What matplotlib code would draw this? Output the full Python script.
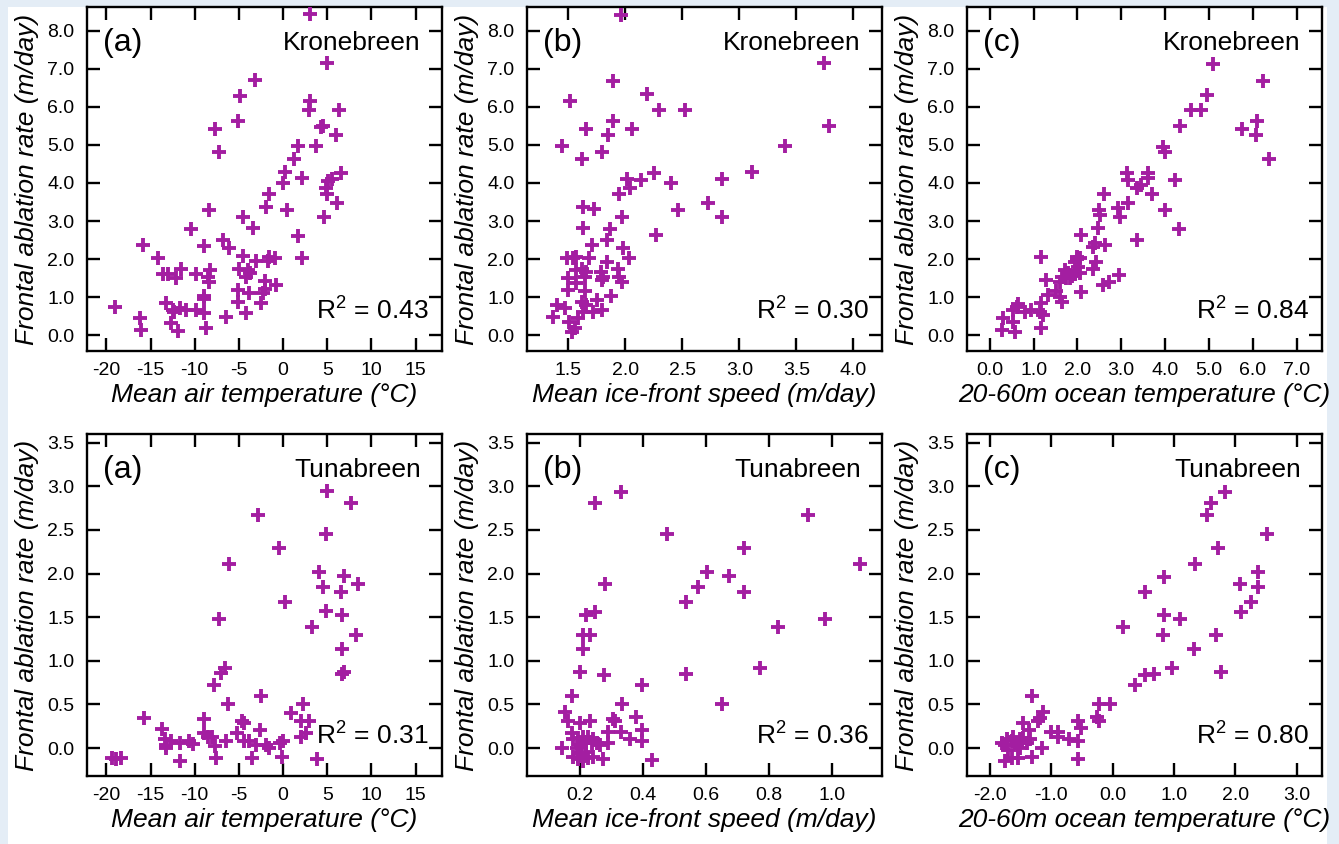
import matplotlib
matplotlib.use('Agg')
from matplotlib import pyplot as plt
from matplotlib.patches import Rectangle
from matplotlib.ticker import FixedLocator, FuncFormatter

plt.rcParams['font.family'] = ['Liberation Sans', 'DejaVu Sans']
plt.rcParams['mathtext.fontset'] = 'custom'
plt.rcParams['mathtext.rm'] = 'Liberation Sans'
plt.rcParams['axes.unicode_minus'] = False

MARK = '#a31ea1'

# Kronebreen: mean air temperature vs frontal ablation rate
kr_air_x = [3.1, 5.0, -3.2, -4.9, 3.0, 2.9, 6.35, -5.05, -7.7, 4.3, 4.55, 6.0, -7.2, 1.65, 3.7,
            1.25, 0.2, 0.0, 2.1, 6.55, 5.05, 5.6, 4.85, 4.95, 6.15, 4.65, -1.55, -1.95, 0.5, -8.35,
            -4.55, -10.4, -3.45, 1.7, -15.85, -9.0, -6.85, -6.15, -14.15, -4.55, -3.05, -1.75, -1.55,
            -0.9, 2.2, -13.6, -13.05, -11.55, -12.1, -9.85, -8.25, -8.5, -8.4, -5.0, -4.0, -3.75,
            -4.2, -2.1, -0.8, -2.0, -5.1, -3.8, -2.3, -2.5, -5.1, -4.2, -6.45, -8.9, -9.0, -8.9,
            -8.7, -13.2, -12.5, -11.7, -10.95, -9.85, -12.65, -11.9, -19.05, -16.25, -16.1, -12.3]
kr_air_y = [8.45, 7.15, 6.7, 6.3, 6.16, 5.93, 5.92, 5.64, 5.41, 5.48, 5.5, 5.26, 4.82, 4.98, 4.98,
            4.64, 4.29, 3.99, 4.12, 4.27, 4.06, 4.1, 3.86, 3.72, 3.48, 3.11, 3.72, 3.36, 3.3, 3.3,
            3.11, 2.78, 2.82, 2.61, 2.37, 2.35, 2.5, 2.28, 2.02, 2.08, 1.95, 1.95, 2.06,
            2.03, 2.02, 1.6, 1.6, 1.75, 1.49, 1.6, 1.71, 1.53, 1.4, 1.75, 1.71, 1.62,
            1.52, 1.42, 1.31, 1.2, 1.18, 1.11, 1.11, 0.83, 0.88, 0.59, 0.48, 1.03, 0.94, 0.59,
            0.19, 0.83, 0.66, 0.7, 0.66, 0.66, 0.32, 0.11, 0.73, 0.44, 0.13, 0.6]

# Kronebreen: mean ice-front speed
kr_spd_x = [1.96, 3.74, 3.79, 1.89, 1.52, 2.19, 2.30, 2.52, 1.89, 1.66, 2.06, 1.85, 1.45, 1.80,
            1.62, 3.40, 3.11, 2.85, 2.25, 2.14, 2.02, 2.04, 1.95, 2.40, 2.73, 2.46, 2.85, 2.27,
            1.63, 1.73, 1.63, 1.97, 1.87, 1.84, 1.71, 1.98, 2.03, 1.49, 1.54, 1.57, 1.68, 1.84,
            1.94, 1.95, 1.97, 1.57, 1.62, 1.66, 1.65, 1.79, 1.81, 1.80, 1.50, 1.57, 1.50, 1.65,
            1.88, 1.75, 1.40, 1.47, 1.37, 1.62, 1.66, 1.63, 1.72, 1.80, 1.59, 1.51, 1.53, 1.56]
kr_spd_y = [8.41, 7.16, 5.50, 6.69, 6.16, 6.33, 5.92, 5.92, 5.64, 5.43, 5.41, 5.26, 4.98, 4.82,
            4.63, 4.98, 4.29, 4.10, 4.27, 4.08, 4.10, 3.86, 3.72, 3.99, 3.48, 3.30, 3.11, 2.63,
            3.36, 3.31, 2.82, 3.11, 2.78, 2.50, 2.37, 2.28, 2.03, 2.02, 2.02, 2.04, 2.02, 1.93,
            1.73, 1.53, 1.40, 1.71, 1.75, 1.67, 1.53, 1.67, 1.53, 1.45, 1.49, 1.36, 1.18, 1.17,
            1.03, 0.92, 0.79, 0.70, 0.48, 0.88, 0.79, 0.61, 0.61, 0.66, 0.44, 0.35, 0.09, 0.18]

# Kronebreen: 20-60m ocean temperature
kr_oce_x = [5.10, 6.23, 4.95, 4.58, 4.83, 4.35, 5.75, 6.09, 6.07, 6.37, 3.96, 4.0, 4.22, 4.0,
            4.32, 3.12, 3.16, 3.35, 3.46, 3.61, 3.61, 3.69, 3.16, 3.35, 2.61, 2.93, 2.97, 2.50,
            2.51, 2.47, 2.63, 2.36, 2.40, 2.42, 2.36, 2.95, 2.08, 1.98, 2.05, 1.94, 2.02, 2.05,
            2.08, 2.59, 2.72, 1.71, 1.79, 1.64, 1.83, 1.60, 1.50, 1.60, 1.64, 1.16, 1.29, 1.33,
            1.16, 1.14, 1.22, 1.16, 0.27, 0.30, 0.53, 0.57, 0.53, 0.61, 0.65, 0.80, 0.95, 1.88,
            1.95, 1.75, 2.0]
kr_oce_y = [7.14, 6.69, 6.31, 5.92, 5.92, 5.50, 5.41, 5.64, 5.26, 4.62, 4.95, 4.82, 4.09, 3.30,
            2.78, 4.25, 4.09, 3.86, 3.94, 4.25, 4.12, 3.72, 3.48, 2.50, 3.72, 3.33, 3.11, 3.30,
            3.16, 2.82, 2.37, 2.32, 2.41, 1.93, 1.75, 1.58, 2.63, 2.06, 2.02, 1.93, 1.80, 1.62,
            1.14, 1.31, 1.40, 1.71, 1.62, 1.53, 1.49, 1.40, 1.17, 1.01, 0.88, 2.06, 1.46, 1.05,
            0.83, 0.61, 0.53, 0.19, 0.13, 0.44, 0.35, 0.09, 0.66, 0.74, 0.82, 0.61, 0.66, 1.55,
            1.60, 1.50, 2.0]

# Tunabreen: mean air temperature
tu_air_x = [4.95, 7.66, -2.88, 4.84, -0.43, -6.07, 4.09, 6.91, 8.53, 4.54, 6.53, 0.23, 4.84,
            6.72, -7.2, 3.33, 8.23, 6.72, 6.91, 6.72, -6.53, -7.0, -7.77, -6.26, -2.5, 2.28,
            0.87, 2.0, 2.96, 2.58, 2.0, -15.8, -13.7, -13.4, -13.3, -13.2, -12.66, -11.7,
            -11.7, -10.6, -10.2, -8.9, -8.9, -8.5, -8.0, -7.65, -7.6, -6.45, -5.25, -4.6, -4.4,
            -4.4, -3.9, -3.55, -3.1, -2.6, -1.9, -1.56, -0.3, -0.1, 3.9, -19.4, -18.9, -18.4, 0.0]
tu_air_y = [2.95, 2.81, 2.67, 2.45, 2.29, 2.11, 2.02, 1.97, 1.88, 1.85, 1.79, 1.67, 1.57,
            1.53, 1.48, 1.39, 1.30, 1.13, 0.87, 0.85, 0.92, 0.86, 0.72, 0.50, 0.60, 0.50,
            0.40, 0.31, 0.31, 0.17, 0.13, 0.35, 0.22, 0.10, 0.04, 0.0, 0.08, 0.06,
            -0.15, 0.08, 0.05, 0.33, 0.17, 0.13, 0.13, 0.02, -0.11, 0.08, 0.17, 0.31, 0.29,
            0.08, 0.08, -0.11, 0.04, 0.21, 0.04, 0.0, 0.06, -0.10, -0.13, -0.11, -0.13, -0.11, 0.08]

# Tunabreen: mean ice-front speed
tu_spd_x = [0.33, 0.248, 0.478, 0.926, 0.721, 1.09, 0.603, 0.675, 0.574, 0.279, 0.721, 0.536,
            0.248, 0.221, 0.979, 0.83, 0.21, 0.232, 0.21, 0.2, 0.276, 0.536, 0.772, 0.398,
            0.653, 0.335, 0.174, 0.152, 0.163, 0.2, 0.232, 0.304, 0.313, 0.378, 0.396, 0.29,
            0.33, 0.359, 0.396, 0.428, 0.274, 0.29, 0.142, 0.174, 0.179, 0.195, 0.211, 0.226,
            0.242, 0.19, 0.205, 0.221, 0.237, 0.253, 0.179, 0.195, 0.211, 0.226, 0.242, 0.2,
            0.221, 0.264]
tu_spd_y = [2.94, 2.81, 2.45, 2.67, 2.29, 2.11, 2.02, 1.97, 1.85, 1.88, 1.79, 1.67,
            1.56, 1.53, 1.48, 1.39, 1.30, 1.30, 1.13, 0.87, 0.84, 0.85, 0.92, 0.72,
            0.50, 0.50, 0.60, 0.41, 0.31, 0.29, 0.31, 0.33, 0.31, 0.36, 0.21, 0.19,
            0.19, 0.10, 0.08, -0.14, -0.13, 0.06, 0.0, 0.17, 0.10, 0.11, 0.13, 0.13,
            0.10, 0.0, 0.04, 0.06, 0.06, 0.06, -0.10, -0.13, -0.15, -0.11, -0.10, -0.06,
            -0.04, 0.04]

# Tunabreen: 20-60m ocean temperature
tu_oce_x = [1.83, 1.60, 1.53, 2.52, 1.71, 1.34, 0.83, 2.375, 2.07, 2.36, 0.53, 2.25, 2.09,
            0.84, 1.10, 0.16, 0.82, 1.68, 1.33, 0.97, 1.76, 0.52, 0.67, 0.36, -0.23, -0.04,
            -1.32, -0.25, -0.23, -1.14, -1.18, -1.21, -1.46, -1.36, -0.57, -0.52, -1.0, -0.90,
            -0.90, -0.72, -0.56, -0.57, -1.15, -1.32, -1.755, -1.647, -1.538, -1.755, -1.728,
            -1.647, -1.62, -1.565, -1.51, -1.457, -1.40, -1.51, -1.70, -1.35, -1.81]
tu_oce_y = [2.94, 2.81, 2.67, 2.45, 2.29, 2.11, 1.96, 2.02, 1.88, 1.85, 1.79, 1.67, 1.56,
            1.53, 1.48, 1.39, 1.30, 1.30, 1.13, 0.92, 0.87, 0.84, 0.85, 0.72, 0.50, 0.50,
            0.60, 0.36, 0.31, 0.41, 0.34, 0.31, 0.29, 0.21, 0.31, 0.23, 0.19, 0.19,
            0.13, 0.10, 0.08, -0.13, 0.0, -0.10, -0.15, -0.11, -0.11, 0.04, 0.10,
            0.08, 0.13, 0.04, 0.10, 0.11, 0.06, 0.0, -0.02, 0.10, 0.06]

glaciers = ['Kronebreen', 'Tunabreen']
panel_tags = ['(a)', '(b)', '(c)']
xlabels = ['Mean air temperature (°C)', 'Mean ice-front speed (m/day)',
           '20-60m ocean temperature (°C)']
r2_values = [[0.43, 0.30, 0.84], [0.31, 0.36, 0.80]]
xs = [[kr_air_x, kr_spd_x, kr_oce_x], [tu_air_x, tu_spd_x, tu_oce_x]]
ys = [[kr_air_y, kr_spd_y, kr_oce_y], [tu_air_y, tu_spd_y, tu_oce_y]]

xticks = [[list(range(-20, 20, 5)), [1.5, 2.0, 2.5, 3.0, 3.5, 4.0], [0, 1, 2, 3, 4, 5, 6, 7]],
          [list(range(-20, 20, 5)), [0.2, 0.4, 0.6, 0.8, 1.0], [-2, -1, 0, 1, 2, 3]]]
xfmt = [['%d', '%.1f', '%.1f'], ['%d', '%.1f', '%.1f']]
xlims = [[(-22.2, 18.0), (1.14, 4.25), (-0.52, 7.58)],
         [(-22.2, 18.0), (0.032, 1.16), (-2.375, 3.41)]]
yticks = [[0, 1, 2, 3, 4, 5, 6, 7, 8], [0, 0.5, 1.0, 1.5, 2.0, 2.5, 3.0, 3.5]]
ylims = [(-0.42, 8.63), (-0.32, 3.60)]

W, H = 1339, 844
fig = plt.figure(figsize=(W / 100, H / 100), dpi=100)
fig.patch.set_facecolor('#e4edf6')
fig.patches.append(Rectangle((8 / W, 0), (1327 - 8) / W, 1 - 7 / H,
                             transform=fig.transFigure, facecolor='white',
                             edgecolor='none', zorder=-1))

col_left = [87, 527, 967]
rows = [(7, 351), (434, 776)]

for r in range(2):
    top, bot = rows[r]
    for c in range(3):
        ax = fig.add_axes([col_left[c] / W, 1 - bot / H, 355 / W, (bot - top) / H])
        ax.plot(xs[r][c], ys[r][c], ls='none', marker='+', ms=10, mew=2.8,
                color=MARK, zorder=3, clip_on=False)
        ax.set_xlim(*xlims[r][c])
        ax.set_ylim(*ylims[r])
        ax.xaxis.set_major_locator(FixedLocator(xticks[r][c]))
        ax.yaxis.set_major_locator(FixedLocator(yticks[r]))
        fx = xfmt[r][c]
        ax.xaxis.set_major_formatter(FuncFormatter(lambda v, p, f=fx: f % v))
        ax.yaxis.set_major_formatter(FuncFormatter(lambda v, p: '%.1f' % v))
        ax.tick_params(direction='in', top=True, right=True, length=9.5, width=1.7,
                       labelsize=14, color='black')
        ax.tick_params(axis='x', pad=8)
        ax.tick_params(axis='y', pad=9)
        for s in ax.spines.values():
            s.set_linewidth(1.7)
        ax.set_xlabel(xlabels[c], style='italic', fontsize=19, labelpad=3)
        ax.set_ylabel('Frontal ablation rate (m/day)', style='italic', fontsize=19,
                      labelpad=6)
        ax.text(0.045, 0.895, panel_tags[c], transform=ax.transAxes, fontsize=23,
                ha='left', va='center')
        ax.text(0.94, 0.895, glaciers[r], transform=ax.transAxes, fontsize=19,
                ha='right', va='center')
        ax.text(0.963, 0.12, 'R$^2$ = %.2f' % r2_values[r][c], transform=ax.transAxes,
                fontsize=19, ha='right', va='center', zorder=4)

fig.savefig('out.png', dpi=100, facecolor=fig.get_facecolor())
